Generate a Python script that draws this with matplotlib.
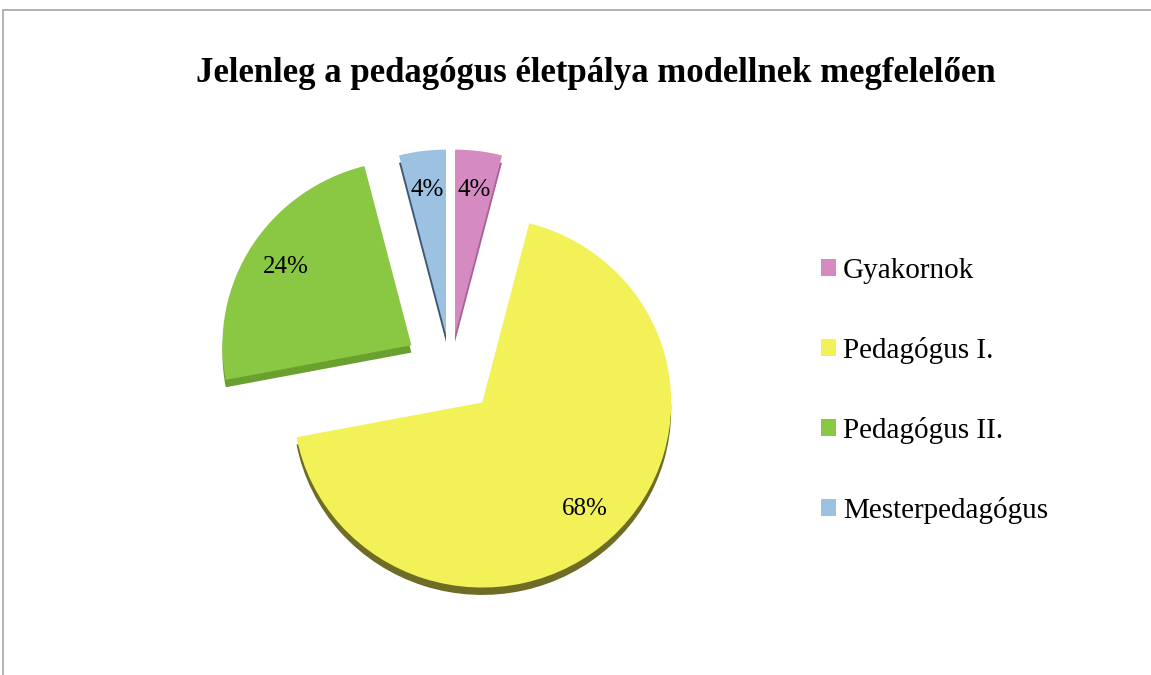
import matplotlib
matplotlib.use("Agg")
import matplotlib.pyplot as plt
from matplotlib.patches import Rectangle

title = "Jelenleg a pedagógus életpálya modellnek megfelelően"
categories = ["Gyakornok", "Pedagógus I.", "Pedagógus II.", "Mesterpedagógus"]
values = [4, 68, 24, 4]
colors = ["#D58BC1", "#F3F158", "#8AC743", "#9CC1E1"]
side_colors = ["#A86396", "#6E6C25", "#6AA02F", "#3F5672"]

plt.rcParams['font.family'] = ['Liberation Serif', 'DejaVu Serif']

W, H = 1151, 675
fig = plt.figure(figsize=(W / 100, H / 100), dpi=100)

# frame
fig.patches.append(Rectangle((3 / W, -0.1), 1.2, 1 - 10 / H + 0.1,
                             transform=fig.transFigure, fill=False,
                             edgecolor="#A6A6A6", linewidth=1.2))

cx, cy = 450.5, 369.5
rx, ry = 189, 185
lim = 1.5
ax = fig.add_axes([(cx - lim * rx) / W, (H - cy - lim * ry) / H,
                   2 * lim * rx / W, 2 * lim * ry / H])

explode = [0.19, 0.245, 0.245, 0.19]
# side (depth) layer
ax.pie(values, colors=side_colors, explode=explode, startangle=90,
       counterclock=False, center=(0, -0.04), frame=True,
       wedgeprops=dict(linewidth=0))
# top layer
wedges, _, autotexts = ax.pie(values, colors=colors, explode=explode,
                              startangle=90, counterclock=False,
                              autopct='%1.0f%%', pctdistance=0.79,
                              frame=True,
                              wedgeprops=dict(linewidth=0),
                              textprops=dict(fontsize=18, color='black'))
ax.set_aspect('auto')
ax.set_xlim(-lim, lim)
ax.set_ylim(-lim, lim)
ax.axis('off')

fig.text(596 / W, 1 - 73 / H, title, ha='center', va='center',
         fontsize=25, fontweight='bold')

fig.legend(wedges, categories, loc='center left',
           bbox_to_anchor=(821 / W, 1 - 391 / H), frameon=False,
           fontsize=21, handlelength=0.5, handleheight=0.5,
           handletextpad=0.25, labelspacing=1.82, borderpad=0,
           borderaxespad=0)

fig.savefig("out.png", dpi=100)
